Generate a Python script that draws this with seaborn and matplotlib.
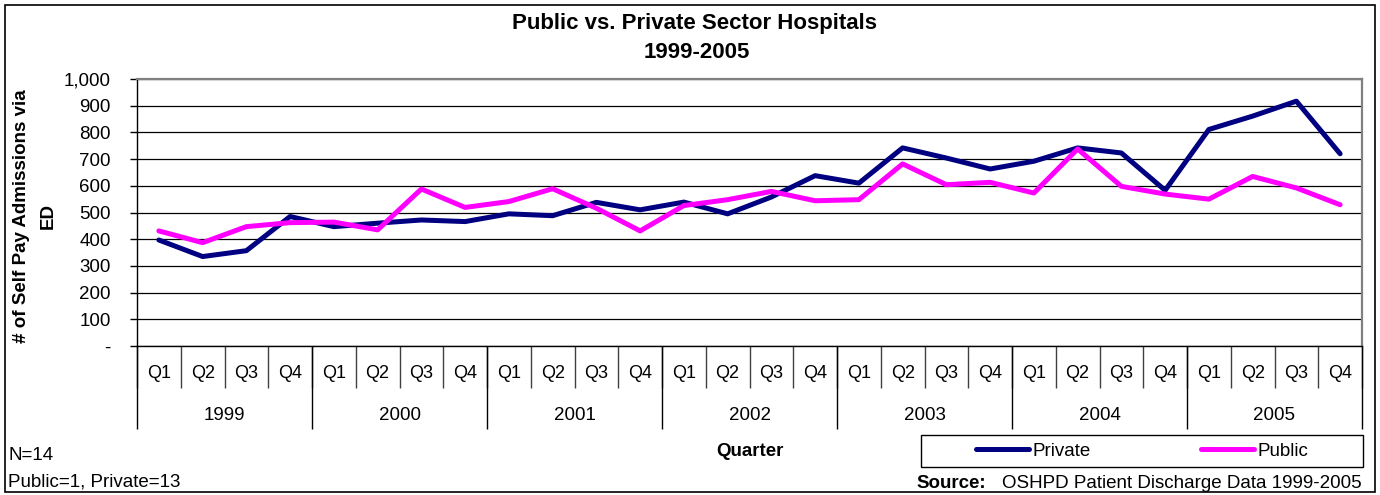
import numpy as np
import pandas as pd
import matplotlib
matplotlib.use("Agg")
import matplotlib.pyplot as plt
from matplotlib.patches import Rectangle
import seaborn as sns

# ---------------- data ----------------
years = ["1999", "2000", "2001", "2002", "2003", "2004", "2005"]
quarters = ["Q1", "Q2", "Q3", "Q4"]
private = [397, 335, 357, 485, 447, 460, 472, 466,
           495, 488, 538, 510, 539, 495, 558, 638,
           610, 742, 704, 663, 692, 742, 723, 583,
           811, 861, 917, 720]
public = [431, 387, 447, 462, 464, 435, 588, 519,
          541, 589, 516, 431, 526, 548, 579, 544,
          548, 682, 604, 613, 573, 738, 598, 569,
          550, 635, 592, 529]
yticks = list(range(0, 1001, 100))

title1 = "Public vs. Private Sector Hospitals"
title2 = "1999-2005"
ylabel1 = "# of Self Pay Admissions via"
ylabel2 = "ED"
xlabel = "Quarter"
note1 = "N=14"
note2 = "Public=1, Private=13"
source_bold = "Source:"
source_rest = "OSHPD Patient Discharge Data 1999-2005"

# ---------------- style ----------------
sns.set_theme(style="white")
plt.rcParams["font.family"] = ["Liberation Sans", "DejaVu Sans"]
for k in ["text.color", "axes.labelcolor", "xtick.color", "ytick.color"]:
    plt.rcParams[k] = "black"

W, H = 1380, 495
fig = plt.figure(figsize=(W / 100, H / 100), dpi=100)

def fx(px):
    return px / W

def fy(py):
    return 1 - py / H

L, R, T, B = 137, 1362, 79, 346
ax = fig.add_axes([fx(L), fy(B), fx(R - L), (B - T) / H])

n = len(years) * len(quarters)
labels_q = [q for _ in years for q in quarters]
pos = np.arange(n) + 0.5
df = pd.DataFrame({
    "pos": np.concatenate([pos, pos]),
    "value": private + public,
    "Sector": ["Private"] * n + ["Public"] * n,
})
palette = {"Private": "#000080", "Public": "#FF00FF"}
sns.lineplot(data=df, x="pos", y="value", hue="Sector", palette=palette,
             linewidth=3.6, ax=ax, legend=True, solid_joinstyle="round",
             solid_capstyle="round")
handles, labs = ax.get_legend_handles_labels()
ax.get_legend().remove()

ax.set_xlim(0, n)
ax.set_ylim(0, 1000)
ax.set_yticks(yticks)
ax.set_yticklabels(["-" if v == 0 else f"{v:,}" for v in yticks], fontsize=13.5)
ax.yaxis.grid(True, color="black", linewidth=0.9)
ax.set_axisbelow(True)
ax.tick_params(axis="y", left=True, direction="out", length=5, width=1,
               color="black", pad=14)
ax.set_xticks(np.arange(n + 1))
ax.set_xticklabels([])
ax.tick_params(axis="x", bottom=True, direction="out", length=42 * 0.72,
               width=1, color="#404040")
ax.set_xlabel("")
ax.set_ylabel("")
for s in ["left", "bottom"]:
    ax.spines[s].set_color("black")
    ax.spines[s].set_linewidth(1)
for s in ["top", "right"]:
    ax.spines[s].set_color("#808080")
    ax.spines[s].set_linewidth(1.6)

tr = ax.get_xaxis_transform()
axh = B - T
for i, q in enumerate(labels_q):
    ax.text(i + 0.5, -(373 - B) / axh, q, transform=tr, ha="center", va="center",
            fontsize=13)
for j, yv in enumerate(years):
    ax.text(j * 4 + 2, -(415 - B) / axh, yv, transform=tr, ha="center", va="center",
            fontsize=13.5)
ax.vlines(np.arange(0, n + 1, 4), -(429 - B) / axh, 0, transform=tr,
          colors="black", linewidth=1, clip_on=False)

# title & labels
fig.text(fx(695), fy(24), title1, ha="center", va="center",
         fontsize=16, fontweight="bold")
fig.text(fx(697), fy(53), title2, ha="center", va="center",
         fontsize=16, fontweight="bold")
fig.text(fx(22), fy(216), ylabel1, rotation=90,
         ha="center", va="center", fontsize=13.5, fontweight="bold")
fig.text(fx(48), fy(216), ylabel2, rotation=90,
         ha="center", va="center", fontsize=13.5, fontweight="bold")
fig.text(fx(750), fy(452), xlabel, ha="center", va="center", fontsize=13.5,
         fontweight="bold")
fig.text(fx(8), fy(456), note1, ha="left", va="center", fontsize=13.5)
fig.text(fx(8), fy(482), note2, ha="left", va="center", fontsize=13.5)
fig.text(fx(916), fy(483), source_bold, ha="left", va="center",
         fontsize=13.5, fontweight="bold")
fig.text(fx(1362), fy(483), source_rest, ha="right", va="center", fontsize=13.5)

# legend
fig.patches.append(Rectangle((fx(921), fy(467)), fx(1363 - 921), (467 - 435) / H,
                             transform=fig.transFigure, fill=False,
                             edgecolor="black", linewidth=1))
leg = fig.legend(handles, labs, loc="center",
                 bbox_to_anchor=(fx(1142), fy(451)), ncol=2, frameon=False,
                 fontsize=13.5, handlelength=2.85, handletextpad=0.15,
                 columnspacing=5.9, borderpad=0, borderaxespad=0)

# outer frame
fig.patches.append(Rectangle((fx(5), fy(492)), fx(1375 - 5), (492 - 5) / H,
                             transform=fig.transFigure, fill=False,
                             edgecolor="black", linewidth=1.2))

fig.savefig("out.png", dpi=100, facecolor="white")
